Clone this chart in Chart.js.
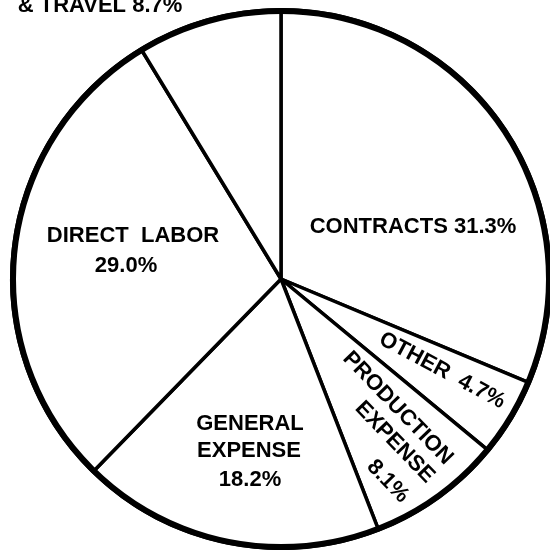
<!DOCTYPE html>
<html>
<head>
<meta charset="utf-8">
<script src="https://cdn.jsdelivr.net/npm/chart.js@4/dist/chart.umd.min.js"></script>
<style>
  html, body { margin: 0; padding: 0; background: #fff; overflow: hidden; }
  #wrap { width: 550px; height: 550px; overflow: hidden; }
</style>
</head>
<body>
<div id="wrap"><canvas id="chart_pie" width="560" height="560"></canvas></div>
<script>
// Budget shares, clockwise from 12 o'clock
const categories = ['CONTRACTS', 'OTHER', 'PRODUCTION EXPENSE', 'GENERAL EXPENSE', 'DIRECT LABOR', 'TRANSPORTATION & TRAVEL'];
const values = [31.3, 4.7, 8.1, 18.2, 29.0, 8.7];

const pct = (v) => v.toFixed(1) + '%';

// text lines of each slice label
const labelLines = [
  [categories[0] + ' ' + pct(values[0])],
  [categories[1] + '  ' + pct(values[1])],
  ['PRODUCTION', 'EXPENSE', pct(values[2])],
  ['GENERAL', 'EXPENSE', pct(values[3])],
  ['DIRECT  LABOR', pct(values[4])],
  ['& TRAVEL ' + pct(values[5])],
];

// label placement: offset of each line's centre from the pie centre, and rotation
const labelLayout = [
  { rot: 0, at: [[132, -54]] },
  { rot: 28, at: [[162, 90]] },
  { rot: 46, at: [[118, 128], [115, 162], [108, 201]] },
  { rot: 0, at: [[-31, 143], [-32, 170], [-31, 199]] },
  { rot: 0, at: [[-148, -45], [-155, -15]] },
  { rot: 0, at: [[-181, -275]] },
];

const BORDER = 3.5;

const sliceLabels = {
  id: 'sliceLabels',
  afterDatasetsDraw(chart) {
    const { ctx } = chart;
    const arc = chart.getDatasetMeta(0).data[0];
    const cx = arc.x, cy = arc.y, r = arc.outerRadius;

    // heavier outer rim
    ctx.save();
    ctx.beginPath();
    ctx.arc(cx, cy, r + BORDER / 2 - 3, 0, Math.PI * 2);
    ctx.lineWidth = 6;
    ctx.strokeStyle = '#000';
    ctx.stroke();
    ctx.restore();

    const size = 22;
    ctx.save();
    ctx.font = 'bold ' + size + 'px "Liberation Sans", Arial, sans-serif';
    ctx.fillStyle = '#000';
    ctx.textAlign = 'center';
    ctx.textBaseline = 'alphabetic';
    labelLines.forEach((lines, i) => {
      const lay = labelLayout[i];
      lines.forEach((txt, j) => {
        const [dx, dy] = lay.at[j];
        ctx.save();
        ctx.translate(cx + dx, cy + dy);
        ctx.rotate(lay.rot * Math.PI / 180);
        ctx.fillText(txt, 0, size * 0.716 / 2);
        ctx.restore();
      });
    });
    ctx.restore();
  },
};

new Chart(document.getElementById('chart_pie'), {
  type: 'pie',
  data: {
    labels: categories,
    datasets: [{
      data: values,
      backgroundColor: '#fff',
      borderColor: '#000',
      borderWidth: BORDER,
      hoverOffset: 0,
      offset: 0,
    }],
  },
  options: {
    responsive: false,
    animation: false,
    events: [],
    layout: { padding: { left: 10, top: 8, right: 8, bottom: 10 } },
    plugins: {
      legend: { display: false },
      tooltip: { enabled: false },
    },
  },
  plugins: [sliceLabels],
});
</script>
</body>
</html>
